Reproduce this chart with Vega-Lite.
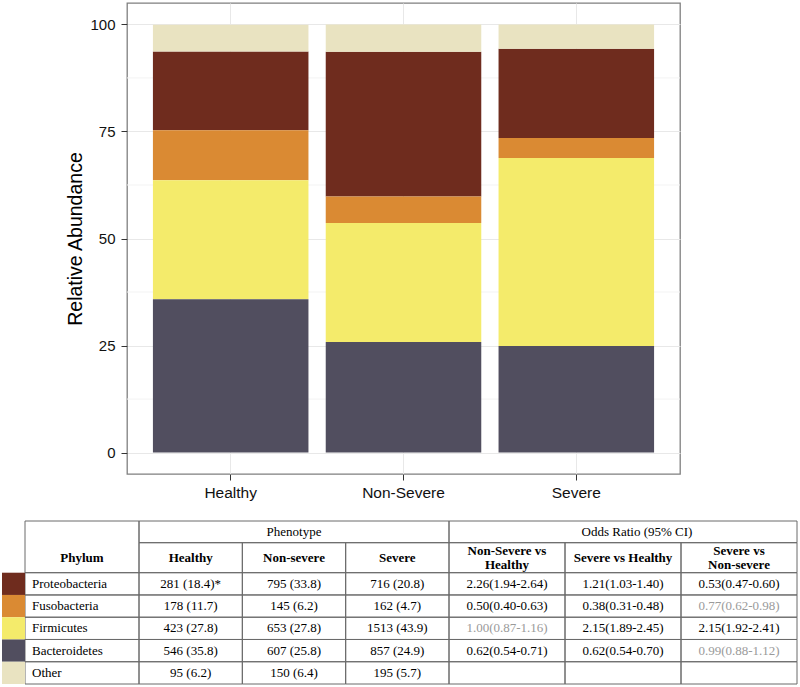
{
  "$schema": "https://vega.github.io/schema/vega-lite/v6.json",
  "background": "white",
  "padding": {"left": 2, "top": 2, "right": 2, "bottom": 2},
  "spacing": 18,
  "config": {"font": "Liberation Sans"},
  "datasets": {
    "abundance": [
      {"Phenotype": "Healthy", "Phylum": "Proteobacteria", "Count": 281, "Pct": 18.4, "Cell": "281 (18.4)*"},
      {"Phenotype": "Healthy", "Phylum": "Fusobacteria", "Count": 178, "Pct": 11.7, "Cell": "178 (11.7)"},
      {"Phenotype": "Healthy", "Phylum": "Firmicutes", "Count": 423, "Pct": 27.8, "Cell": "423 (27.8)"},
      {"Phenotype": "Healthy", "Phylum": "Bacteroidetes", "Count": 546, "Pct": 35.8, "Cell": "546 (35.8)"},
      {"Phenotype": "Healthy", "Phylum": "Other", "Count": 95, "Pct": 6.2, "Cell": "95 (6.2)"},
      {"Phenotype": "Non-Severe", "Phylum": "Proteobacteria", "Count": 795, "Pct": 33.8, "Cell": "795 (33.8)"},
      {"Phenotype": "Non-Severe", "Phylum": "Fusobacteria", "Count": 145, "Pct": 6.2, "Cell": "145 (6.2)"},
      {"Phenotype": "Non-Severe", "Phylum": "Firmicutes", "Count": 653, "Pct": 27.8, "Cell": "653 (27.8)"},
      {"Phenotype": "Non-Severe", "Phylum": "Bacteroidetes", "Count": 607, "Pct": 25.8, "Cell": "607 (25.8)"},
      {"Phenotype": "Non-Severe", "Phylum": "Other", "Count": 150, "Pct": 6.4, "Cell": "150 (6.4)"},
      {"Phenotype": "Severe", "Phylum": "Proteobacteria", "Count": 716, "Pct": 20.8, "Cell": "716 (20.8)"},
      {"Phenotype": "Severe", "Phylum": "Fusobacteria", "Count": 162, "Pct": 4.7, "Cell": "162 (4.7)"},
      {"Phenotype": "Severe", "Phylum": "Firmicutes", "Count": 1513, "Pct": 43.9, "Cell": "1513 (43.9)"},
      {"Phenotype": "Severe", "Phylum": "Bacteroidetes", "Count": 857, "Pct": 24.9, "Cell": "857 (24.9)"},
      {"Phenotype": "Severe", "Phylum": "Other", "Count": 195, "Pct": 5.7, "Cell": "195 (5.7)"}
    ],
    "phyla": [
      {"Phylum": "Proteobacteria", "Rank": 4},
      {"Phylum": "Fusobacteria", "Rank": 3},
      {"Phylum": "Firmicutes", "Rank": 2},
      {"Phylum": "Bacteroidetes", "Rank": 1},
      {"Phylum": "Other", "Rank": 5}
    ],
    "odds": [
      {"Phylum": "Proteobacteria", "Comparison": "Non-Severe vs Healthy", "OR": "2.26(1.94-2.64)", "Significant": "yes"},
      {"Phylum": "Proteobacteria", "Comparison": "Severe vs Healthy", "OR": "1.21(1.03-1.40)", "Significant": "yes"},
      {"Phylum": "Proteobacteria", "Comparison": "Severe vs Non-severe", "OR": "0.53(0.47-0.60)", "Significant": "yes"},
      {"Phylum": "Fusobacteria", "Comparison": "Non-Severe vs Healthy", "OR": "0.50(0.40-0.63)", "Significant": "yes"},
      {"Phylum": "Fusobacteria", "Comparison": "Severe vs Healthy", "OR": "0.38(0.31-0.48)", "Significant": "yes"},
      {"Phylum": "Fusobacteria", "Comparison": "Severe vs Non-severe", "OR": "0.77(0.62-0.98)", "Significant": "no"},
      {"Phylum": "Firmicutes", "Comparison": "Non-Severe vs Healthy", "OR": "1.00(0.87-1.16)", "Significant": "no"},
      {"Phylum": "Firmicutes", "Comparison": "Severe vs Healthy", "OR": "2.15(1.89-2.45)", "Significant": "yes"},
      {"Phylum": "Firmicutes", "Comparison": "Severe vs Non-severe", "OR": "2.15(1.92-2.41)", "Significant": "yes"},
      {"Phylum": "Bacteroidetes", "Comparison": "Non-Severe vs Healthy", "OR": "0.62(0.54-0.71)", "Significant": "yes"},
      {"Phylum": "Bacteroidetes", "Comparison": "Severe vs Healthy", "OR": "0.62(0.54-0.70)", "Significant": "yes"},
      {"Phylum": "Bacteroidetes", "Comparison": "Severe vs Non-severe", "OR": "0.99(0.88-1.12)", "Significant": "no"},
      {"Phylum": "Other", "Comparison": "Non-Severe vs Healthy", "OR": "", "Significant": "yes"},
      {"Phylum": "Other", "Comparison": "Severe vs Healthy", "OR": "", "Significant": "yes"},
      {"Phylum": "Other", "Comparison": "Severe vs Non-severe", "OR": "", "Significant": "yes"}
    ],
    "phenoHeaders": [
      {"Phenotype": "Healthy", "Header": "Healthy"},
      {"Phenotype": "Non-Severe", "Header": "Non-severe"},
      {"Phenotype": "Severe", "Header": "Severe"}
    ],
    "orHeaders": [
      {"Comparison": "Non-Severe vs Healthy", "Header": "Non-Severe vs\nHealthy"},
      {"Comparison": "Severe vs Healthy", "Header": "Severe vs Healthy"},
      {"Comparison": "Severe vs Non-severe", "Header": "Severe vs\nNon-severe"}
    ],
    "minorGrid": [{"v": 12.5}, {"v": 37.5}, {"v": 62.5}, {"v": 87.5}]
  },
  "vconcat": [
    {
      "width": 553,
      "height": 471,
      "view": {"stroke": "#7f7f7f", "strokeWidth": 1.3},
      "layer": [
        {
          "data": {"name": "minorGrid"},
          "mark": {"type": "rule", "color": "#F3F3F3", "strokeWidth": 1},
          "encoding": {
            "y": {"field": "v", "type": "quantitative", "title": "Relative Abundance"}
          }
        },
        {
          "data": {"name": "abundance"},
          "transform": [
            {"lookup": "Phylum", "from": {"data": {"name": "phyla"}, "key": "Phylum", "fields": ["Rank"]}}
          ],
          "mark": {"type": "bar"},
          "encoding": {
            "x": {
              "field": "Phenotype", "type": "nominal",
              "sort": ["Healthy", "Non-Severe", "Severe"],
              "scale": {"paddingInner": 0.1, "paddingOuter": 0.15},
              "axis": {
                "title": null, "labelAngle": 0, "labelFontSize": 15.5, "labelColor": "#111",
                "tickSize": 6, "tickColor": "#333", "labelPadding": 5, "domain": false,
                "grid": true, "gridColor": "#E8E8E8"
              }
            },
            "y": {
              "field": "Pct", "type": "quantitative", "stack": "zero",
              "title": "Relative Abundance",
              "scale": {"domain": [-5, 105], "nice": false, "zero": false},
              "axis": {
                "values": [0, 25, 50, 75, 100], "labelFontSize": 15, "labelColor": "#111",
                "tickSize": 6, "tickColor": "#333", "labelPadding": 6, "domain": false,
                "grid": true, "gridColor": "#E8E8E8",
                "titleFontSize": 19.5, "titleFontWeight": "normal", "titleColor": "#000", "titlePadding": 4
              }
            },
            "color": {
              "field": "Phylum", "type": "nominal",
              "scale": {
                "domain": ["Bacteroidetes", "Firmicutes", "Fusobacteria", "Proteobacteria", "Other"],
                "range": ["#514E5F", "#F4EB6B", "#DA8A33", "#6F2C1E", "#E9E3C1"]
              },
              "legend": null
            },
            "order": {"field": "Rank", "type": "quantitative", "sort": "ascending"}
          }
        }
      ]
    },
    {
      "width": 670,
      "height": 163,
      "view": {"stroke": null},
      "resolve": {
        "scale": {"x": "independent", "y": "independent", "color": "independent"},
        "axis": {"x": "independent", "y": "independent"}
      },
      "layer": [
        {
          "data": {"values": [{"Cell": "Phylum header"}]},
          "mark": {"type": "rect", "filled": false, "stroke": "#6a6a6a", "strokeWidth": 1},
          "encoding": {
            "x": {"datum": "Phylum", "type": "nominal", "scale": {"domain": ["Phylum"], "range": [-102, 12], "paddingInner": 0, "paddingOuter": 0}, "axis": null},
            "y": {"datum": "Header", "type": "nominal", "scale": {"domain": ["Header"], "range": [0, 51.7], "paddingInner": 0, "paddingOuter": 0}, "axis": null}
          }
        },
        {
          "data": {"values": [{"Label": "Phylum"}]},
          "mark": {"type": "text", "font": "Liberation Serif", "fontSize": 13, "fontWeight": "bold", "color": "#000"},
          "encoding": {
            "text": {"field": "Label"},
            "x": {"datum": "Phylum", "type": "nominal", "scale": {"domain": ["Phylum"], "range": [-102, 12], "paddingInner": 0, "paddingOuter": 0}, "axis": null},
            "y": {"datum": "H2", "type": "nominal", "scale": {"domain": ["H2"], "range": [21.7, 51.7], "paddingInner": 0, "paddingOuter": 0}, "axis": null}
          }
        },
        {
          "data": {"values": [{"Group": "Phenotype"}]},
          "mark": {"type": "rect", "filled": false, "stroke": "#6a6a6a", "strokeWidth": 1},
          "encoding": {
            "x": {"field": "Group", "type": "nominal", "scale": {"domain": ["Phenotype"], "range": [12, 322], "paddingInner": 0, "paddingOuter": 0}, "axis": null},
            "y": {"datum": "H1", "type": "nominal", "scale": {"domain": ["H1"], "range": [0, 21.7], "paddingInner": 0, "paddingOuter": 0}, "axis": null}
          }
        },
        {
          "data": {"values": [{"Group": "Phenotype"}]},
          "mark": {"type": "text", "font": "Liberation Serif", "fontSize": 13, "color": "#000"},
          "encoding": {
            "text": {"field": "Group"},
            "x": {"field": "Group", "type": "nominal", "scale": {"domain": ["Phenotype"], "range": [12, 322], "paddingInner": 0, "paddingOuter": 0}, "axis": null},
            "y": {"datum": "H1", "type": "nominal", "scale": {"domain": ["H1"], "range": [0, 21.7], "paddingInner": 0, "paddingOuter": 0}, "axis": null}
          }
        },
        {
          "data": {"values": [{"Group": "Odds Ratio (95% CI)"}]},
          "mark": {"type": "rect", "filled": false, "stroke": "#6a6a6a", "strokeWidth": 1},
          "encoding": {
            "x": {"field": "Group", "type": "nominal", "scale": {"domain": ["Odds Ratio (95% CI)"], "range": [322, 670], "paddingInner": 0, "paddingOuter": 0}, "axis": null},
            "y": {"datum": "H1", "type": "nominal", "scale": {"domain": ["H1"], "range": [0, 21.7], "paddingInner": 0, "paddingOuter": 0}, "axis": null}
          }
        },
        {
          "data": {"values": [{"Group": "Odds Ratio (95% CI)"}]},
          "mark": {"type": "text", "font": "Liberation Serif", "fontSize": 13, "color": "#000", "dx": 14},
          "encoding": {
            "text": {"field": "Group"},
            "x": {"field": "Group", "type": "nominal", "scale": {"domain": ["Odds Ratio (95% CI)"], "range": [322, 670], "paddingInner": 0, "paddingOuter": 0}, "axis": null},
            "y": {"datum": "H1", "type": "nominal", "scale": {"domain": ["H1"], "range": [0, 21.7], "paddingInner": 0, "paddingOuter": 0}, "axis": null}
          }
        },
        {
          "data": {"name": "phenoHeaders"},
          "mark": {"type": "rect", "filled": false, "stroke": "#6a6a6a", "strokeWidth": 1},
          "encoding": {
            "x": {"field": "Phenotype", "type": "nominal", "scale": {"domain": ["Healthy", "Non-Severe", "Severe"], "range": [12, 322], "paddingInner": 0, "paddingOuter": 0}, "axis": null},
            "y": {"datum": "H2", "type": "nominal", "scale": {"domain": ["H2"], "range": [21.7, 51.7], "paddingInner": 0, "paddingOuter": 0}, "axis": null}
          }
        },
        {
          "data": {"name": "phenoHeaders"},
          "mark": {"type": "text", "font": "Liberation Serif", "fontSize": 13, "fontWeight": "bold", "color": "#000"},
          "encoding": {
            "text": {"field": "Header"},
            "x": {"field": "Phenotype", "type": "nominal", "scale": {"domain": ["Healthy", "Non-Severe", "Severe"], "range": [12, 322], "paddingInner": 0, "paddingOuter": 0}, "axis": null},
            "y": {"datum": "H2", "type": "nominal", "scale": {"domain": ["H2"], "range": [21.7, 51.7], "paddingInner": 0, "paddingOuter": 0}, "axis": null}
          }
        },
        {
          "data": {"name": "orHeaders"},
          "mark": {"type": "rect", "filled": false, "stroke": "#6a6a6a", "strokeWidth": 1},
          "encoding": {
            "x": {"field": "Comparison", "type": "nominal", "scale": {"domain": ["Non-Severe vs Healthy", "Severe vs Healthy", "Severe vs Non-severe"], "range": [322, 670], "paddingInner": 0, "paddingOuter": 0}, "axis": null},
            "y": {"datum": "H2", "type": "nominal", "scale": {"domain": ["H2"], "range": [21.7, 51.7], "paddingInner": 0, "paddingOuter": 0}, "axis": null}
          }
        },
        {
          "data": {"name": "orHeaders"},
          "transform": [{"filter": "indexof(datum.Header, '\\n') < 0"}],
          "mark": {"type": "text", "font": "Liberation Serif", "fontSize": 13, "fontWeight": "bold", "color": "#000"},
          "encoding": {
            "text": {"field": "Header"},
            "x": {"field": "Comparison", "type": "nominal", "scale": {"domain": ["Non-Severe vs Healthy", "Severe vs Healthy", "Severe vs Non-severe"], "range": [322, 670], "paddingInner": 0, "paddingOuter": 0}, "axis": null},
            "y": {"datum": "H2", "type": "nominal", "scale": {"domain": ["H2"], "range": [21.7, 51.7], "paddingInner": 0, "paddingOuter": 0}, "axis": null}
          }
        },
        {
          "data": {"name": "orHeaders"},
          "transform": [{"filter": "indexof(datum.Header, '\\n') >= 0"}],
          "mark": {"type": "text", "font": "Liberation Serif", "fontSize": 13, "fontWeight": "bold", "color": "#000", "lineBreak": "\n", "lineHeight": 13.5, "dy": -6.5},
          "encoding": {
            "text": {"field": "Header"},
            "x": {"field": "Comparison", "type": "nominal", "scale": {"domain": ["Non-Severe vs Healthy", "Severe vs Healthy", "Severe vs Non-severe"], "range": [322, 670], "paddingInner": 0, "paddingOuter": 0}, "axis": null},
            "y": {"datum": "H2", "type": "nominal", "scale": {"domain": ["H2"], "range": [21.7, 51.7], "paddingInner": 0, "paddingOuter": 0}, "axis": null}
          }
        },
        {
          "data": {"name": "phyla"},
          "mark": {"type": "rect", "filled": false, "stroke": "#6a6a6a", "strokeWidth": 1},
          "encoding": {
            "x": {"datum": "Phylum", "type": "nominal", "scale": {"domain": ["Phylum"], "range": [-102, 12], "paddingInner": 0, "paddingOuter": 0}, "axis": null},
            "y": {"field": "Phylum", "type": "nominal", "scale": {"domain": ["Proteobacteria", "Fusobacteria", "Firmicutes", "Bacteroidetes", "Other"], "range": [51.7, 163], "paddingInner": 0, "paddingOuter": 0}, "axis": null}
          }
        },
        {
          "data": {"name": "phyla"},
          "mark": {"type": "rect"},
          "encoding": {
            "x": {"datum": "swatch", "type": "nominal", "scale": {"domain": ["swatch"], "range": [-125, -102], "paddingInner": 0, "paddingOuter": 0}, "axis": null},
            "y": {"field": "Phylum", "type": "nominal", "scale": {"domain": ["Proteobacteria", "Fusobacteria", "Firmicutes", "Bacteroidetes", "Other"], "range": [51.7, 163], "paddingInner": 0, "paddingOuter": 0}, "axis": null},
            "color": {
              "field": "Phylum", "type": "nominal",
              "scale": {
                "domain": ["Bacteroidetes", "Firmicutes", "Fusobacteria", "Proteobacteria", "Other"],
                "range": ["#514E5F", "#F4EB6B", "#DA8A33", "#6F2C1E", "#E9E3C1"]
              },
              "legend": null
            }
          }
        },
        {
          "data": {"name": "phyla"},
          "mark": {"type": "text", "font": "Liberation Serif", "fontSize": 13, "color": "#000", "align": "left", "dx": -50},
          "encoding": {
            "text": {"field": "Phylum"},
            "x": {"datum": "Phylum", "type": "nominal", "scale": {"domain": ["Phylum"], "range": [-102, 12], "paddingInner": 0, "paddingOuter": 0}, "axis": null},
            "y": {"field": "Phylum", "type": "nominal", "scale": {"domain": ["Proteobacteria", "Fusobacteria", "Firmicutes", "Bacteroidetes", "Other"], "range": [51.7, 163], "paddingInner": 0, "paddingOuter": 0}, "axis": null}
          }
        },
        {
          "data": {"name": "abundance"},
          "mark": {"type": "rect", "filled": false, "stroke": "#6a6a6a", "strokeWidth": 1},
          "encoding": {
            "x": {"field": "Phenotype", "type": "nominal", "scale": {"domain": ["Healthy", "Non-Severe", "Severe"], "range": [12, 322], "paddingInner": 0, "paddingOuter": 0}, "axis": null},
            "y": {"field": "Phylum", "type": "nominal", "scale": {"domain": ["Proteobacteria", "Fusobacteria", "Firmicutes", "Bacteroidetes", "Other"], "range": [51.7, 163], "paddingInner": 0, "paddingOuter": 0}, "axis": null}
          }
        },
        {
          "data": {"name": "abundance"},
          "mark": {"type": "text", "font": "Liberation Serif", "fontSize": 13, "color": "#000"},
          "encoding": {
            "text": {"field": "Cell"},
            "x": {"field": "Phenotype", "type": "nominal", "scale": {"domain": ["Healthy", "Non-Severe", "Severe"], "range": [12, 322], "paddingInner": 0, "paddingOuter": 0}, "axis": null},
            "y": {"field": "Phylum", "type": "nominal", "scale": {"domain": ["Proteobacteria", "Fusobacteria", "Firmicutes", "Bacteroidetes", "Other"], "range": [51.7, 163], "paddingInner": 0, "paddingOuter": 0}, "axis": null}
          }
        },
        {
          "data": {"name": "odds"},
          "mark": {"type": "rect", "filled": false, "stroke": "#6a6a6a", "strokeWidth": 1},
          "encoding": {
            "x": {"field": "Comparison", "type": "nominal", "scale": {"domain": ["Non-Severe vs Healthy", "Severe vs Healthy", "Severe vs Non-severe"], "range": [322, 670], "paddingInner": 0, "paddingOuter": 0}, "axis": null},
            "y": {"field": "Phylum", "type": "nominal", "scale": {"domain": ["Proteobacteria", "Fusobacteria", "Firmicutes", "Bacteroidetes", "Other"], "range": [51.7, 163], "paddingInner": 0, "paddingOuter": 0}, "axis": null}
          }
        },
        {
          "data": {"name": "odds"},
          "mark": {"type": "text", "font": "Liberation Serif", "fontSize": 13},
          "encoding": {
            "text": {"field": "OR"},
            "x": {"field": "Comparison", "type": "nominal", "scale": {"domain": ["Non-Severe vs Healthy", "Severe vs Healthy", "Severe vs Non-severe"], "range": [322, 670], "paddingInner": 0, "paddingOuter": 0}, "axis": null},
            "y": {"field": "Phylum", "type": "nominal", "scale": {"domain": ["Proteobacteria", "Fusobacteria", "Firmicutes", "Bacteroidetes", "Other"], "range": [51.7, 163], "paddingInner": 0, "paddingOuter": 0}, "axis": null},
            "color": {"field": "Significant", "type": "nominal", "scale": {"domain": ["yes", "no"], "range": ["#000000", "#9a9a9a"]}, "legend": null}
          }
        }
      ]
    }
  ]
}
